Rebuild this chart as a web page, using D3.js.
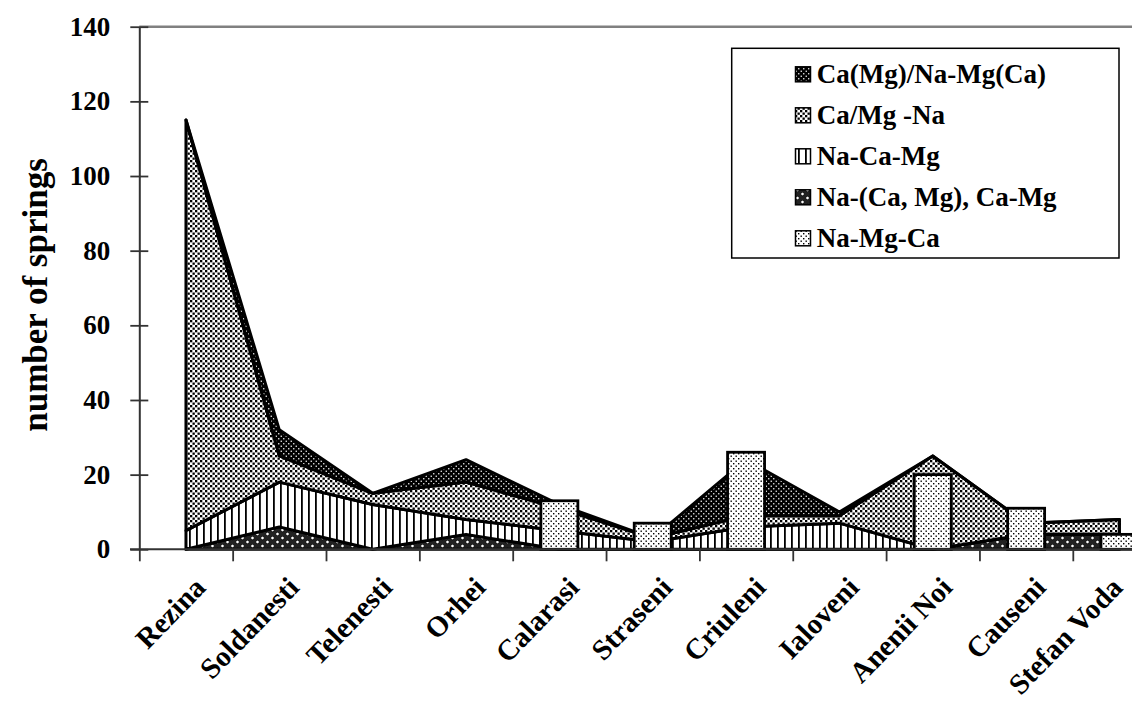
<!DOCTYPE html>
<html><head><meta charset="utf-8">
<script src="https://cdn.jsdelivr.net/npm/d3@7"></script>
<style>
html,body{margin:0;padding:0;background:#fff;}
svg{display:block;}
text{font-family:"Liberation Serif","Times New Roman",serif;font-weight:bold;fill:#000;}
</style></head>
<body>
<svg id="c" width="1132" height="702"></svg>
<script>
const categories = ["Rezina","Soldanesti","Telenesti","Orhei","Calarasi","Straseni","Criuleni","Ialoveni","Anenii Noi","Causeni","Stefan Voda"];
const seriesNames = ["Ca(Mg)/Na-Mg(Ca)","Ca/Mg -Na","Na-Ca-Mg","Na-(Ca, Mg), Ca-Mg","Na-Mg-Ca"];
// stacked area series (bottom to top)
const naCaMgCaMg = [0, 6, 0, 4, 0, 0, 0, 0, 0, 4, 4];     // Na-(Ca, Mg), Ca-Mg
const naCaMg     = [5, 12, 12, 4, 5, 2, 6, 7, 0, 0, 0];   // Na-Ca-Mg
const caMgNa     = [110, 7, 3, 10, 6, 1, 3, 2, 25, 3, 4]; // Ca/Mg -Na
const caMgNaMgCa = [0, 7, 0, 6, 1, 0, 15, 1, 0, 0, 0];    // Ca(Mg)/Na-Mg(Ca)
// bar series
const naMgCa     = [0, 0, 0, 0, 13, 7, 26, 0, 20, 11, 4]; // Na-Mg-Ca
const yTicks = [0,20,40,60,80,100,120,140];

const svg = d3.select("#c");
const defs = svg.append("defs");

function pat(id, w, h, build){
  const p = defs.append("pattern").attr("id", id).attr("patternUnits","userSpaceOnUse")
    .attr("width", w).attr("height", h);
  build(p);
}
pat("pDark", 5, 5, p => {
  p.append("rect").attr("width",5).attr("height",5).attr("fill","#000");
  p.append("rect").attr("x",0.6).attr("y",0.6).attr("width",1.3).attr("height",1.3).attr("fill","#fff");
  p.append("rect").attr("x",3.1).attr("y",3.1).attr("width",1.3).attr("height",1.3).attr("fill","#fff");
});
pat("pDots", 5, 5, p => {
  p.append("rect").attr("width",5).attr("height",5).attr("fill","#fff");
  p.append("rect").attr("x",0).attr("y",0).attr("width",2.3).attr("height",2.3).attr("fill","#000");
  p.append("rect").attr("x",2.5).attr("y",2.5).attr("width",2.3).attr("height",2.3).attr("fill","#000");
});
pat("pLines", 7, 7, p => {
  p.append("rect").attr("width",7).attr("height",7).attr("fill","#fff");
  p.append("rect").attr("x",0).attr("y",0).attr("width",1.8).attr("height",7).attr("fill","#000");
});
pat("pCirc", 10, 8, p => {
  p.append("rect").attr("width",10).attr("height",8).attr("fill","#222");
  p.append("circle").attr("cx",2.5).attr("cy",2).attr("r",1.8).attr("fill","#fff").attr("stroke","#000").attr("stroke-width",0.8);
  p.append("circle").attr("cx",7.5).attr("cy",6).attr("r",1.8).attr("fill","#fff").attr("stroke","#000").attr("stroke-width",0.8);
});
pat("pBar", 5, 5, p => {
  p.append("rect").attr("width",5).attr("height",5).attr("fill","#fff");
  p.append("rect").attr("x",0.5).attr("y",0.5).attr("width",1.4).attr("height",1.4).attr("fill","#000");
  p.append("rect").attr("x",3).attr("y",3).attr("width",1.4).attr("height",1.4).attr("fill","#000");
});

const plotL = 139.3, step = 93.35, plotB = 549.3, plotT = 26.7;
const x = d3.scaleBand().domain(categories).range([plotL, plotL + step*categories.length]).padding(0);
const xb = d3.scaleLinear().domain([0, categories.length]).range([plotL, plotL + step*categories.length]);
const y = d3.scaleLinear().domain([0,140]).range([plotB, plotT]);
const cx = c => x(c) + x.bandwidth()/2;

// plot top border
svg.append("line").attr("x1",plotL).attr("x2",1132).attr("y1",plotT).attr("y2",plotT)
  .attr("stroke","#808080").attr("stroke-width",2.5);

// stacked areas
const rows = categories.map((c,i) => ({cat:c, a:naCaMgCaMg[i], b:naCaMg[i], c2:caMgNa[i], d:caMgNaMgCa[i]}));
const keys = ["a","b","c2","d"];
const fills = {a:"url(#pCirc)", b:"url(#pLines)", c2:"url(#pDots)", d:"url(#pDark)"};
const stack = d3.stack().keys(keys)(rows);
const area = d3.area().x(d => cx(d.data.cat)).y0(d => y(d[0])).y1(d => y(d[1]));
svg.append("g").selectAll("path").data(stack).join("path")
  .attr("d", area).attr("fill", s => fills[s.key])
  .attr("stroke","#000").attr("stroke-width",3).attr("stroke-linejoin","round");

// bars
const bw = 37;
svg.append("g").selectAll("rect").data(categories.map((c,i)=>({cat:c, v:naMgCa[i]})).filter(d=>d.v>0))
  .join("rect")
  .attr("x", d => cx(d.cat) - bw/2).attr("width", bw)
  .attr("y", d => y(d.v)).attr("height", d => y(0) - y(d.v))
  .attr("fill","url(#pBar)").attr("stroke","#000").attr("stroke-width",2.8);

// y axis
const ya = svg.append("g").attr("transform",`translate(${plotL},0)`)
  .call(d3.axisLeft(y).tickValues(yTicks).tickSizeInner(9).tickSizeOuter(0).tickPadding(20).tickFormat(d3.format("d")));
ya.select(".domain").attr("stroke","#333").attr("stroke-width",2);
ya.selectAll(".tick line").attr("x1",9).attr("stroke","#333").attr("stroke-width",1.8);
ya.selectAll(".tick text").attr("font-size",27).attr("font-family","Liberation Serif").attr("font-weight","bold").attr("fill","#000");

// x axis (ticks at category boundaries)
const xa = svg.append("g").attr("transform",`translate(0,${plotB})`)
  .call(d3.axisBottom(xb).tickValues(d3.range(categories.length+1)).tickSizeInner(12).tickSizeOuter(0).tickFormat(""));
xa.select(".domain").remove();
xa.selectAll(".tick line").attr("stroke","#333").attr("stroke-width",1.8);
svg.append("line").attr("x1",130).attr("x2",1132).attr("y1",plotB).attr("y2",plotB)
  .attr("stroke","#333").attr("stroke-width",2);

// x labels
svg.append("g").selectAll("text").data(categories).join("text")
  .attr("transform", c => `translate(${Math.min(cx(c)+14, 1117)},${582}) rotate(-46)`)
  .attr("text-anchor","end").attr("dominant-baseline","central")
  .attr("font-size",29).text(c => c);

// y label
svg.append("text").attr("transform","translate(35,295) rotate(-90)")
  .attr("text-anchor","middle").attr("dominant-baseline","central")
  .attr("font-size",35).text("number of springs");

// legend
const lg = svg.append("g");
lg.append("rect").attr("x",731.7).attr("y",48.3).attr("width",387.3).attr("height",209.7)
  .attr("fill","#fff").attr("stroke","#000").attr("stroke-width",1.5);
const legFills = ["url(#pDark)","url(#pDots)","url(#pLines)","url(#pCirc)","url(#pBar)"];
const ly = d3.scaleLinear().domain([0,4]).range([74.3, 238.3]);
seriesNames.forEach((n,i) => {
  lg.append("rect").attr("x",795.5).attr("y",ly(i)-7.5).attr("width",15).attr("height",15)
    .attr("fill",legFills[i]).attr("stroke","#000").attr("stroke-width",1.5);
  lg.append("text").attr("x",816.7).attr("y",ly(i)).attr("dominant-baseline","central")
    .attr("font-size",27).text(n);
});
</script>
</body></html>
